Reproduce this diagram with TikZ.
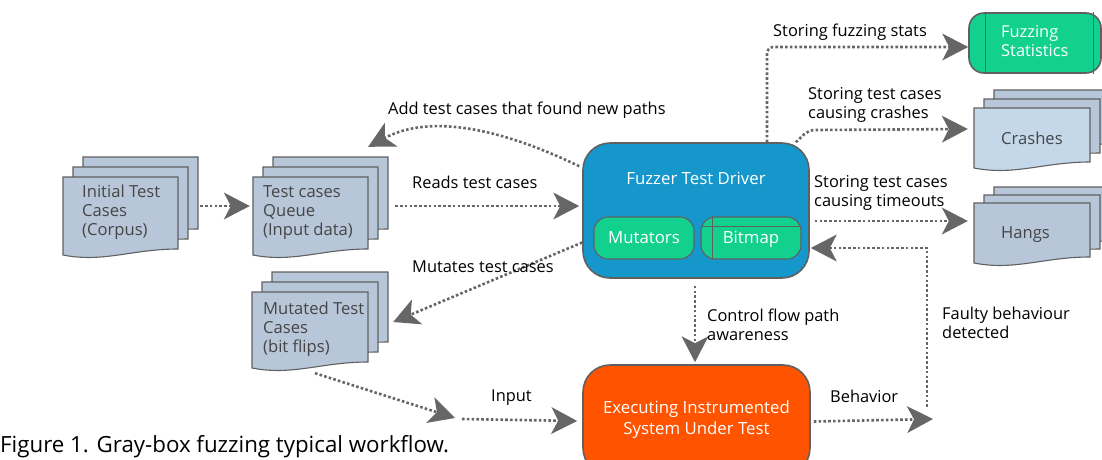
\documentclass[tikz,border=0pt]{standalone}
\usepackage{fontspec}
\setmainfont{Open Sans}
\usetikzlibrary{arrows.meta,calc,fit}

\definecolor{drvblue}{HTML}{1597CB}
\definecolor{modgreen}{HTML}{12D18E}
\definecolor{exeorange}{HTML}{FF5300}
\definecolor{sheetfill}{HTML}{B8C6D9}
\definecolor{crashfill}{HTML}{C4D8EA}
\definecolor{edgegray}{HTML}{606060}
\definecolor{flowgray}{HTML}{666666}
\definecolor{sheettext}{HTML}{454545}

% one sheet of a document stack: top-left x, y, width, height, fill
\newcommand\docsheet[5]{%
  \filldraw[sheetedge, fill=#5] (#1,#2) -- ({#1+#3},#2) -- ({#1+#3},{#2+#4-6})
    .. controls ({#1+0.6*#3},{#2+#4-6}) and ({#1+0.35*#3},{#2+#4+8}) .. (#1,{#2+#4}) -- cycle;}

\tikzset{
  sheetedge/.style={draw=edgegray, line width=1.1pt},
  boxedge/.style={draw=edgegray, line width=1.6pt},
  flow/.style={draw=flowgray, line width=2.6pt, dash pattern=on 2.6pt off 2.2pt,
    -{Stealth[length=26pt,width=27pt,inset=7pt,line width=0pt]}},
  lbl/.style={font=\fontsize{16.4}{19}\selectfont, text=black, inner sep=0, anchor=north west, align=left},
  sheetlbl/.style={font=\fontsize{16.6}{19}\selectfont, text=sheettext, inner sep=0, anchor=north west, align=left},
  whitelbl/.style={font=\fontsize{16.8}{21}\selectfont, text=white, inner sep=0},
  stackarea/.style={inner sep=0, draw=none},
}

\begin{document}
\begin{tikzpicture}[x=1pt,y=-1pt]
\useasboundingbox (0,0) rectangle (1102,459);

% ---- document stacks ----
\docsheet{83}{157}{115}{78}{sheetfill}
\docsheet{73}{167}{115}{78}{sheetfill}
\docsheet{63}{177}{115}{78}{sheetfill}
\node[stackarea, fit={(63,157) (198,255)}] (init) {};
\node[sheetlbl] (initlbl) at (82,185) {Initial Test\\Cases\\(Corpus)};

\docsheet{273}{157}{115}{78}{sheetfill}
\docsheet{263}{167}{115}{78}{sheetfill}
\docsheet{253}{177}{115}{78}{sheetfill}
\node[stackarea, fit={(253,157) (388,255)}] (queue) {};
\node[sheetlbl] (queuelbl) at (263,185) {Test cases\\Queue\\(Input data)};

\docsheet{272}{272}{116}{76}{sheetfill}
\docsheet{262}{282}{116}{76}{sheetfill}
\docsheet{252}{292}{116}{76}{sheetfill}
\node[stackarea, fit={(252,272) (388,368)}] (mut) {};
\node[sheetlbl] (mutlbl) at (263,302) {Mutated Test\\Cases\\(bit flips)};

\docsheet{994}{90}{116}{60}{sheetfill}
\docsheet{984}{99}{116}{60}{sheetfill}
\docsheet{974}{108}{116}{60}{crashfill}
\node[stackarea, fit={(974,90) (1110,168)}] (crash) {};
\node[sheetlbl, anchor=base west] (crashlbl) at (1001,144) {Crashes};

\docsheet{994}{187}{116}{60}{sheetfill}
\docsheet{984}{195}{116}{60}{sheetfill}
\docsheet{974}{203}{116}{60}{sheetfill}
\node[stackarea, fit={(974,187) (1110,263)}] (hangs) {};
\node[sheetlbl, anchor=base west] (hangslbl) at (1001,238) {Hangs};

% ---- fuzzing statistics store ----
\node[boxedge, fill=modgreen, rounded corners=15pt, minimum width=132pt, minimum height=60pt] (stats) at (1035,43) {};
\draw[edgegray, line width=1.1pt] ($(stats.north west)+(17,0)$) -- ($(stats.south west)+(17,0)$);
\draw[edgegray, line width=1.1pt] ($(stats.north east)+(-8,0)$) -- ($(stats.south east)+(-8,0)$);
\node[whitelbl, anchor=north west, align=left, font=\fontsize{16.4}{19}\selectfont] (statslbl) at (1001,25) {Fuzzing\\Statistics};

% ---- fuzzer test driver ----
\node[boxedge, fill=drvblue, rounded corners=27pt, minimum width=226pt, minimum height=135pt] (drv) at (696,210.5) {};
\node[whitelbl, anchor=base] (drvlbl) at (696,184) {Fuzzer Test Driver};
\node[boxedge, line width=1.1pt, fill=modgreen, rounded corners=14pt, minimum width=100pt, minimum height=42pt,
      whitelbl, inner sep=0] (mutators) at (644,238) {Mutators};
\node[boxedge, line width=1.1pt, fill=modgreen, rounded corners=14pt, minimum width=100pt, minimum height=42pt] (bitmap) at (751,238) {};
\draw[edgegray, line width=1.1pt] ($(bitmap.north west)+(12,0)$) -- ($(bitmap.south west)+(12,0)$);
\draw[edgegray, line width=1.1pt] ($(bitmap.north west)+(0.6,10)$) -- ($(bitmap.north east)+(-0.6,10)$);
\node[whitelbl] (bitmaplbl) at (751,239) {Bitmap};

% ---- system under test ----
\node[boxedge, fill=exeorange, rounded corners=27pt, minimum width=227pt, minimum height=110pt,
      whitelbl, align=center] (exe) at (696.5,420) {Executing Instrumented\\System Under Test};

% ---- free connector ends ----
\coordinate (inp) at (455,418);
\coordinate (beh) at (933,419);
\coordinate (fault) at (927,407);

% ---- connectors ----
\draw[flow] ($(init.east)+(2,0)$) -- ($(queue.west)+(-3,0)$);
\draw[flow] ($(queue.east)+(7,0)$) -- ($(drv.west |- queue.east)+(-3,0)$);
\node[lbl] (readslbl) at (412,176) {Reads test cases};

\draw[flow] ($(drv.north west)+(-3,24)$) .. controls (500,128) and (430,114) .. ($(queue.north east)+(-20,-10)$);
\node[lbl] (addlbl) at (388,102) {Add test cases that found new paths};

\draw[flow] ($(drv.west)+(0,32)$) -- ($(mut.east)+(5,2)$);
\node[lbl] (mutateslbl) at (412,261) {Mutates test cases};

\draw[flow] ($(mut.south)+(-5,5)$) -- (inp);
\draw[flow] ($(inp)+(7,1)$) -- ($(exe.west)+(-5,1)$);
\node[lbl] (inputlbl) at (491,390) {Input};

\draw[flow] ($(drv.south)+(-1,7)$) -- ($(exe.north)+(-1.5,-2)$);
\node[lbl] (cflbl) at (707,309) {Control flow path\\awareness};

\draw[flow] ($(exe.east)+(3,1.5)$) -- (beh);
\node[lbl] (behlbl) at (830,390) {Behavior};

\draw[flow, rounded corners=0pt] (fault) -- (927,248) -- ($(drv.east)+(1,37.5)$);
\node[lbl] (faultlbl) at (942,307) {Faulty behaviour\\detected};

\draw[flow] ($(drv.north)+(71,0)$) -- (767,54) to[out=90,in=180] (773,47) -- ($(stats.west)+(0,4)$);
\node[lbl] (statslbl2) at (773,24) {Storing fuzzing stats};

\draw[flow] ($(drv.north east)+(-14,0)$) to[out=40,in=180] (815,130) -- ($(crash.west)+(-6,0)$);
\node[lbl] (crashflow) at (808,87) {Storing test cases\\causing crashes};

\draw[flow] ($(drv.east)+(5,10.5)$) -- ($(hangs.west)+(-6,-4)$);
\node[lbl] (hangflow) at (814,175) {Storing test cases\\causing timeouts};

% ---- caption ----
\node[font=\fontsize{22.3}{26}\selectfont, inner sep=0, anchor=base west] (caption) at (0,452)
  {Figure 1. Gray-box fuzzing typical workflow.};
\end{tikzpicture}
\end{document}
